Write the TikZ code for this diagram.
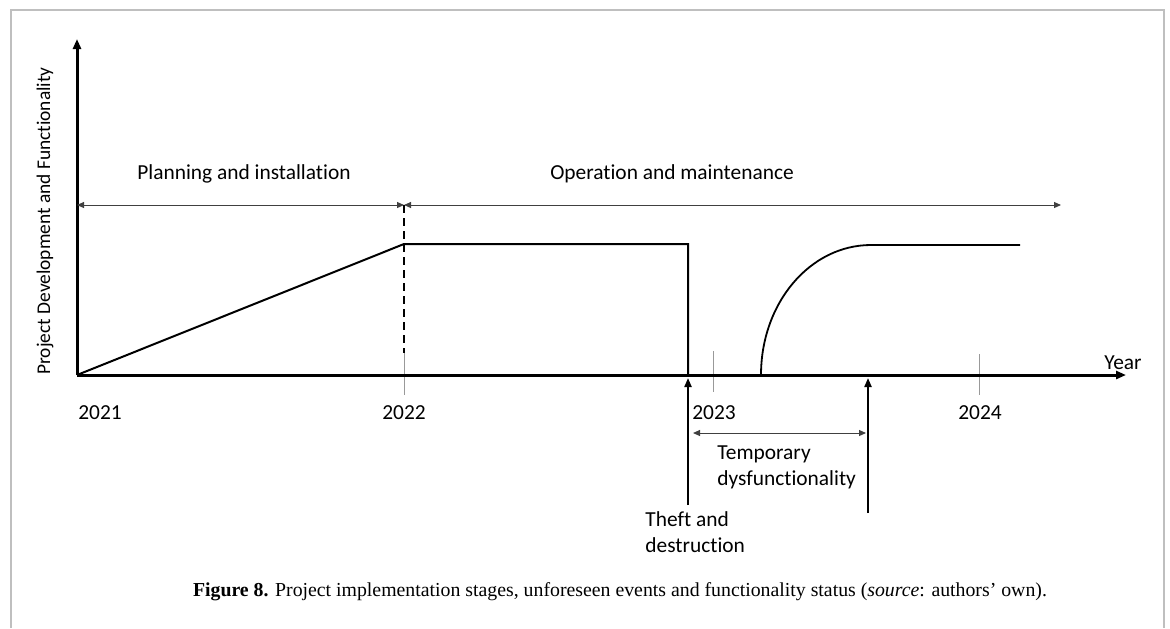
\documentclass[tikz,border=0pt]{standalone}
\usepackage{fontspec}
\setmainfont{Carlito}[Ligatures=CommonOff]
\newfontfamily\capfont{Liberation Serif}
\usetikzlibrary{arrows.meta}
\tikzset{
    axis/.style={
        line width=1.5pt,
        -{Triangle[length=5pt,width=4pt]}},
    curve/.style={
        line width=1pt},
    span/.style={
        line width=0.5pt,
        draw=black!75,
        {Triangle[length=3.5pt,width=3pt]}-{Triangle[length=3.5pt,width=3pt]}},
    event/.style={
        line width=1pt,
        -{Triangle[length=4.5pt,width=3.5pt]}},
    tick/.style={
        line width=0.5pt,
        draw=black!40},
    label/.style={
        font=\fontsize{10.7}{13}\selectfont,
        inner sep=0pt},
    frame/.style={
        line width=0.8pt,
        draw=black!25}}

\begin{document}
\begin{tikzpicture}[x=0.5pt,y=-0.5pt]
        \useasboundingbox (0,0) rectangle (1170,628);
        \draw[frame] (11,628) -- (11,10) -- (1164,10) -- (1164,628);

        \coordinate (origin) at (77,375);
        \coordinate (ytop) at (77,39);
        \coordinate (xend) at (1126,375);

        \coordinate (t22a) at (404,353);
        \coordinate (t22b) at (404,395);
        \coordinate (t23a) at (713,351);
        \coordinate (t23b) at (713,392);
        \coordinate (t24a) at (979,354);
        \coordinate (t24b) at (979,395);

        \draw[tick] (t22a) -- (t22b);
        \draw[tick] (t23a) -- (t23b);
        \draw[tick] (t24a) -- (t24b);

        \draw[axis] (origin) -- (ytop);
        \draw[axis] (origin) -- (xend);

        \node[label, font=\fontsize{9.7}{12}\selectfont, rotate=90] (ylab) at (45,221) {Project Development and Functionality};
        \node[label] (year) at (1123,363) {Year};
        \node[label] (y21) at (100,413) {2021};
        \node[label] (y22) at (404,413) {2022};
        \node[label] (y23) at (714,413) {2023};
        \node[label] (y24) at (980,413) {2024};

        \coordinate (planL) at (77,205);
        \coordinate (planR) at (404,205);
        \coordinate (operR) at (1061,205);
        \draw[span] (planL) -- (planR);
        \draw[span] (planR) -- (operR);
        \node[label] (plan) at (244,174) {Planning and installation};
        \node[label] (oper) at (672,174) {Operation and maintenance};

        \coordinate (peak) at (404,244);
        \coordinate (fall) at (688,244);
        \coordinate (drop) at (688,375);
        \coordinate (rise) at (761,375);
        \coordinate (recov) at (871,245);
        \coordinate (flat) at (1020,245);

        \draw[line width=1pt, dash pattern=on 4pt off 2.5pt] (planR) -- (t22a);
        \draw[curve] (origin) -- (peak) -- (fall) -- (drop);
        \draw[curve, line width=0.9pt] (rise) .. controls (761,303) and (810,245) .. (recov) -- (flat);

        \coordinate (theftS) at (688,505);
        \coordinate (theftE) at (688,378);
        \coordinate (backS) at (868,513);
        \coordinate (backE) at (868,378);
        \draw[event] (theftS) -- (theftE);
        \draw[event] (backS) -- (backE);

        \coordinate (tempL) at (693,433);
        \coordinate (tempR) at (866,433);
        \draw[span] (tempL) -- (tempR);
        \node[label, anchor=north west, align=left] (temp) at (717,445) {Temporary\\dysfunctionality};
        \node[label, anchor=north west, align=left] (theft) at (645,511) {Theft and\\destruction};

        \node[inner sep=0pt, font=\capfont\fontsize{9.9}{11}\selectfont] (caption) at (620,592)
            {\textbf{Figure 8.} Project implementation stages, unforeseen events and functionality status (\textit{source}: authors’ own).};
\end{tikzpicture}
\end{document}
